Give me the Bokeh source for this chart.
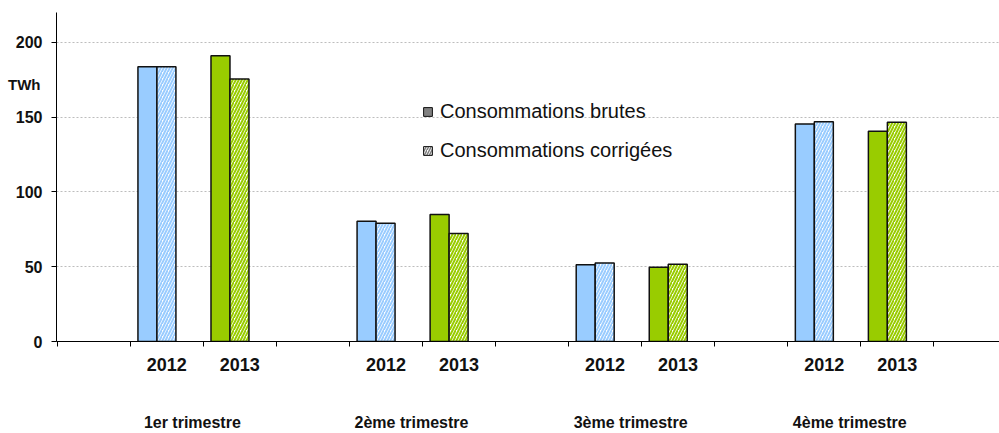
from bokeh.plotting import figure
from bokeh.models import (Range1d, FixedTicker, LinearAxis, Legend, LegendItem,
                          ColumnDataSource)
from bokeh.embed import file_html
from bokeh.resources import INLINE

# ---- data ----
quarters = ["1er trimestre", "2ème trimestre", "3ème trimestre", "4ème trimestre"]
years = ["2012", "2013"]
brutes_2012 = [183.8, 80.4, 51.4, 145.5]
brutes_2013 = [191.1, 85.0, 49.6, 140.6]
corrigees_2012 = [183.8, 79.1, 52.5, 147.0]
corrigees_2013 = [175.6, 72.2, 51.6, 146.6]
year_colors = ["#99CCFF", "#99CC00"]
y_ticks = [0, 50, 100, 150, 200]
unit_label = "TWh"
unit_label_at = 172

brutes = [brutes_2012, brutes_2013]
corrigees = [corrigees_2012, corrigees_2013]

# ---- layout of category slots (blank slot between quarters) ----
xb, xc, tb, tc, cols = [], [], [], [], []
year_ticks, year_over = [], {}
for q in range(len(quarters)):
    for yi, yr in enumerate(years):
        slot = 1 + 3 * q + yi
        xb.append(slot + 0.235)
        xc.append(slot + 0.495)
        tb.append(brutes[yi][q])
        tc.append(corrigees[yi][q])
        cols.append(year_colors[yi])
        year_ticks.append(slot + 0.5)
        year_over[slot + 0.5] = yr
boundaries = list(range(0, 3 * len(quarters) + 1))
q_ticks = [3 * q + 2 - 0.15 for q in range(len(quarters))]
q_over = {t: name for t, name in zip(q_ticks, quarters)}

src_b = ColumnDataSource(dict(x=xb, top=tb, color=cols))
src_c = ColumnDataSource(dict(x=xc, top=tc, color=cols))

FONT = "Liberation Sans"
TXT = "#111111"

p = figure(width=999, height=433, x_range=Range1d(-0.01, 12.9), y_range=Range1d(0, 220),
           output_backend="svg", toolbar_location=None,
           min_border_left=56, min_border_right=0, min_border_top=12, min_border_bottom=90)
p.outline_line_color = None
p.background_fill_color = "white"
p.xgrid.visible = False
p.ygrid.ticker = FixedTicker(ticks=y_ticks)
p.ygrid.grid_line_color = "#bdbdbd"
p.ygrid.grid_line_dash = "2 2"
p.ygrid.grid_line_width = 1

# y axis
ya = p.yaxis[0]
ya.ticker = FixedTicker(ticks=y_ticks)
ya.major_tick_out = 5
ya.major_tick_in = 0
ya.minor_tick_line_color = None
ya.axis_line_color = "#000000"
ya.major_tick_line_color = "#000000"
ya.major_label_text_font = FONT
ya.major_label_text_font_style = "bold"
ya.major_label_text_font_size = "16px"
ya.major_label_text_color = TXT
ya.major_label_standoff = 9

# unit label as a tick-less outer left axis
ua = LinearAxis(ticker=FixedTicker(ticks=[unit_label_at]),
                major_label_overrides={unit_label_at: unit_label})
ua.axis_line_color = None
ua.major_tick_line_color = None
ua.minor_tick_line_color = None
ua.major_tick_out = 0
ua.major_tick_in = 0
ua.major_label_text_font = FONT
ua.major_label_text_font_style = "bold"
ua.major_label_text_font_size = "15px"
ua.major_label_text_color = TXT
ua.major_label_standoff = -28
p.add_layout(ua, "left")

# x axis (years)
xa = p.xaxis[0]
xa.ticker = FixedTicker(ticks=year_ticks, minor_ticks=boundaries)
xa.major_label_overrides = year_over
xa.major_tick_line_color = None
xa.major_tick_out = 0
xa.major_tick_in = 0
xa.minor_tick_out = 5
xa.minor_tick_in = 0
xa.minor_tick_line_color = "#000000"
xa.axis_line_color = "#000000"
xa.major_label_text_font = FONT
xa.major_label_text_font_style = "bold"
xa.major_label_text_font_size = "18px"
xa.major_label_text_color = TXT
xa.major_label_standoff = 11

# quarter axis
qa = LinearAxis(ticker=FixedTicker(ticks=q_ticks), major_label_overrides=q_over)
qa.axis_line_color = None
qa.major_tick_line_color = None
qa.minor_tick_line_color = None
qa.major_tick_out = 0
qa.major_tick_in = 0
qa.major_label_text_font = FONT
qa.major_label_text_font_style = "bold"
qa.major_label_text_font_size = "16px"
qa.major_label_text_color = TXT
qa.major_label_standoff = 40
p.add_layout(qa, "below")

# bars
p.vbar(x="x", top="top", bottom=0, width=0.26, source=src_b,
       fill_color="color", line_color=TXT, line_width=1.5)
p.vbar(x="x", top="top", bottom=0, width=0.26, source=src_c,
       fill_color="white", hatch_pattern="/", hatch_color="color",
       hatch_scale=6, hatch_weight=2, line_color=TXT, line_width=1.5)

# legend (two separate one-item legends; proxy renderers hold no visible data)
nan = float("nan")
r1 = p.vbar(x=[nan], top=[nan], width=0.1, fill_color="#808080", line_color=TXT, line_width=1)
r2 = p.vbar(x=[nan], top=[nan], width=0.1, fill_color="white", hatch_pattern="/",
            hatch_color="#808080", hatch_scale=5, hatch_weight=1.5,
            line_color=TXT, line_width=1)
for label, r, loc in [("Consommations brutes", r1, (366, 218)),
                      ("Consommations corrigées", r2, (366, 179))]:
    lg = Legend(items=[LegendItem(label=label, renderers=[r])], location=loc,
                glyph_width=11, glyph_height=11, label_standoff=7, padding=0, margin=0,
                border_line_color=None, background_fill_alpha=0,
                label_text_font=FONT, label_text_font_size="20px",
                label_text_color=TXT)
    p.add_layout(lg, "center")

open("out.html", "w").write(file_html(p, INLINE))
